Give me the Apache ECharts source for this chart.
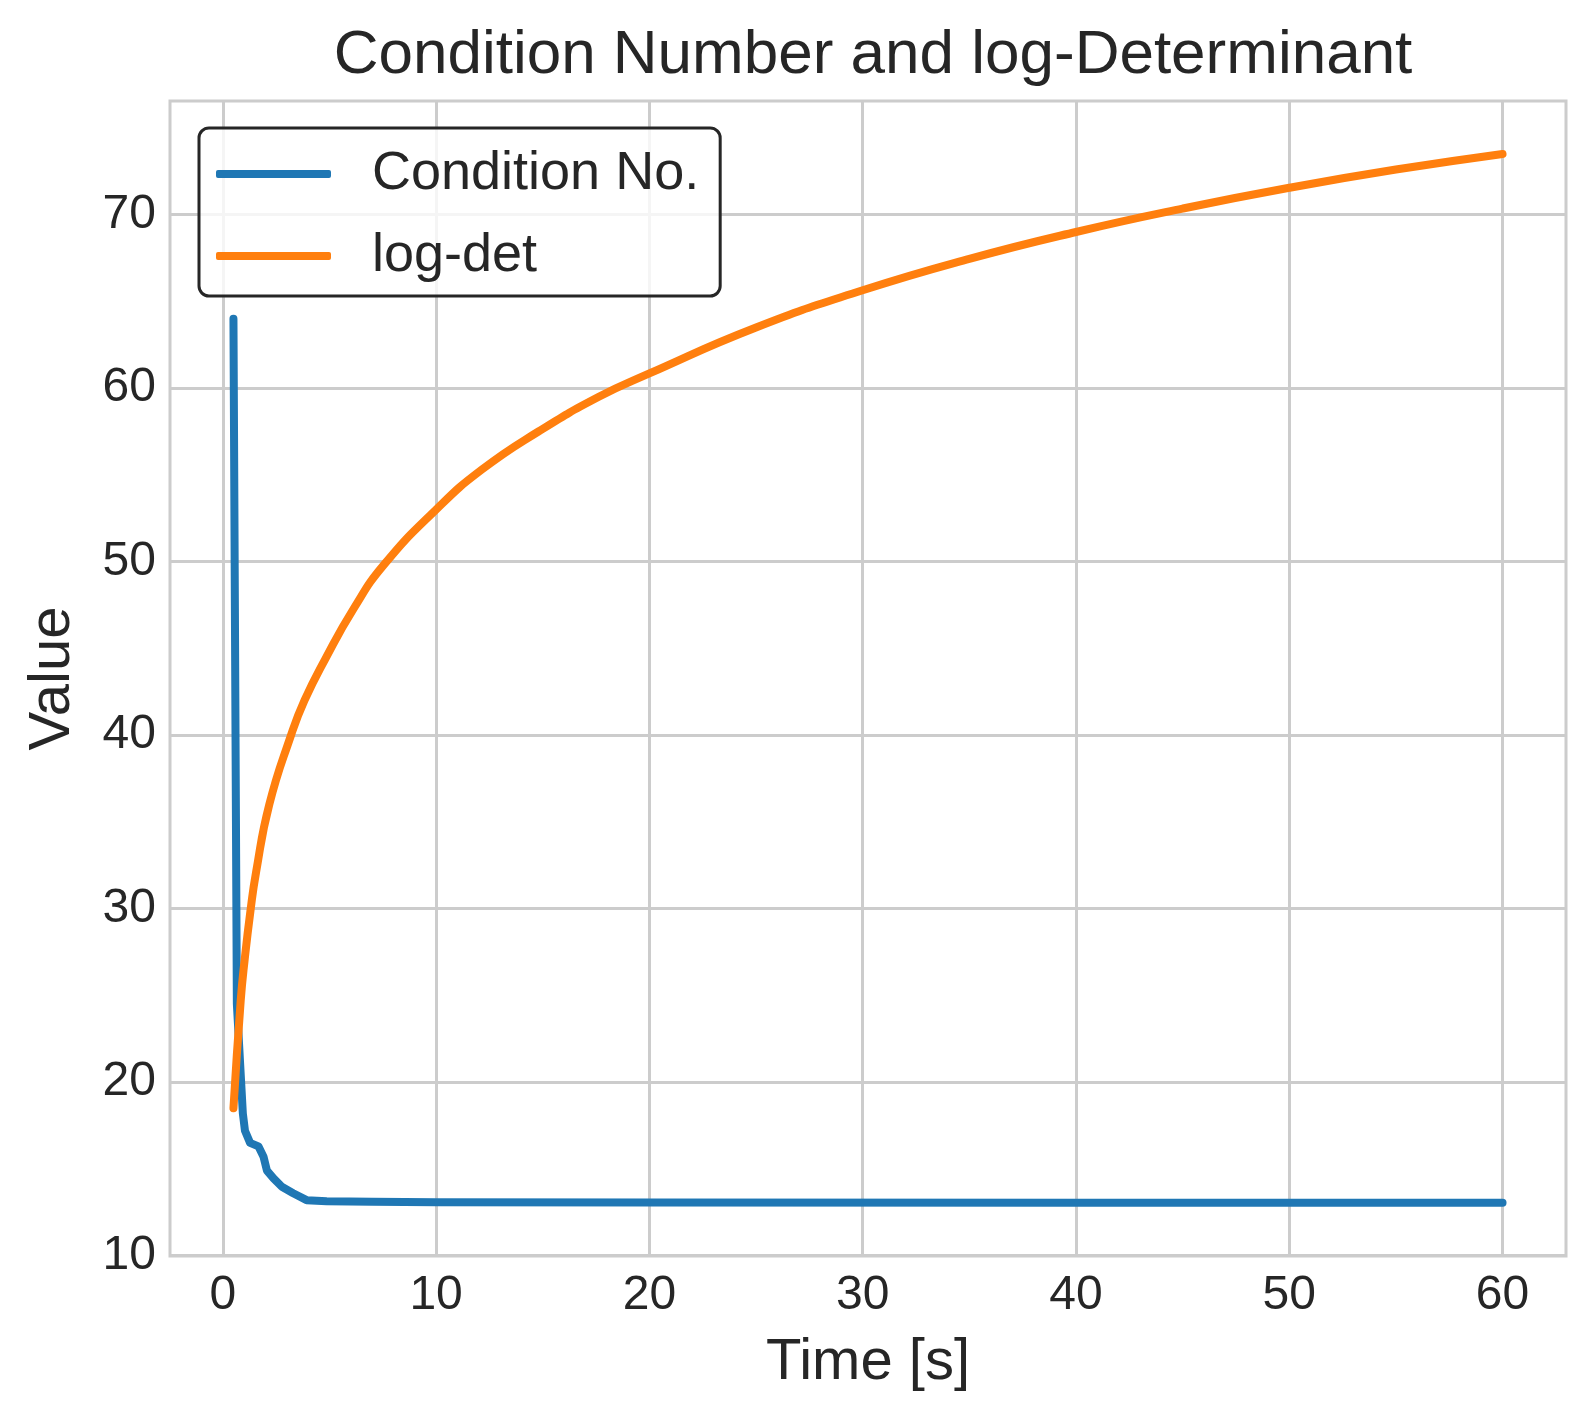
<!DOCTYPE html>
<html>
<head>
<meta charset="utf-8">
<script src="https://cdn.jsdelivr.net/npm/echarts@6/dist/echarts.min.js"></script>
<style>
html,body{margin:0;padding:0;background:#fff;}
#chart{width:1596px;height:1417px;}
</style>
</head>
<body>
<div id="chart"></div>
<script>
// ---- data ----
const condTime   = [0.5, 0.66, 0.94, 1.04, 1.28, 1.67, 1.91, 2.07, 2.38, 2.77, 3.3, 3.93, 4.87, 7, 10, 20, 40, 60];
const condValues = [64.0, 24.5, 18.2, 17.2, 16.5, 16.3, 15.7, 14.9, 14.45, 13.97, 13.6, 13.2, 13.13, 13.1, 13.08, 13.06, 13.05, 13.05];

const logdetTime   = [0.5, 0.84, 1.02, 1.3, 1.56, 2.18, 3.2, 3.83, 4.81, 6.14, 7.54, 10, 12.14, 14.8, 17.63, 20, 25, 30, 35, 40, 45, 50, 55, 60];
const logdetValues = [18.5, 24.7, 27.0, 29.9, 32.1, 36.0, 40.0, 42.0, 44.4, 47.3, 49.8, 53.0, 55.3, 57.5, 59.5, 60.85, 63.5, 65.64, 67.45, 69.0, 70.35, 71.55, 72.6, 73.5];

const xTicks = [0, 10, 20, 30, 40, 50, 60];
const yTicks = [10, 20, 30, 40, 50, 60, 70];

const seriesNames = ['Condition No.', 'log-det'];
const titleText = 'Condition Number and log-Determinant';
const xLabel = 'Time [s]';
const yLabel = 'Value';

// ---- chart ----
const FONT = '"Liberation Sans", Arial, sans-serif';
const TXT = '#262626';
const GRID = '#cccccc';

const chart = echarts.init(document.getElementById('chart'), null, {renderer: 'canvas'});

const pairs = (xs, ys) => xs.map((x, i) => [x, ys[i]]);

chart.setOption({
  backgroundColor: '#ffffff',
  animation: false,
  title: {
    text: titleText,
    left: 868,
    textAlign: 'center',
    top: 20,
    textStyle: {fontFamily: FONT, fontSize: 62, fontWeight: 'normal', color: TXT}
  },
  grid: {
    left: 170, top: 101, right: 30, bottom: 161,
    show: true, borderColor: GRID, borderWidth: 3, backgroundColor: 'transparent',
    containLabel: false
  },
  legend: {
    orient: 'vertical',
    left: 199, top: 128,
    padding: [16, 21, 10, 17],
    itemGap: 22,
    itemWidth: 115,
    itemHeight: 8,
    icon: 'roundRect',
    backgroundColor: 'rgba(255,255,255,0.8)',
    borderColor: TXT,
    borderWidth: 3,
    borderRadius: 10,
    textStyle: {fontFamily: FONT, fontSize: 54, color: TXT, lineHeight: 60, padding: [0, 0, 0, 36]},
    data: seriesNames
  },
  xAxis: {
    type: 'value',
    min: -2.475, max: 62.975,
    name: xLabel,
    nameLocation: 'middle',
    nameGap: 78,
    nameTextStyle: {fontFamily: FONT, fontSize: 58, color: TXT},
    axisLine: {show: false},
    axisTick: {show: false, customValues: xTicks},
    axisLabel: {customValues: xTicks, fontFamily: FONT, fontSize: 48, color: TXT, margin: 16},
    splitLine: {show: true, lineStyle: {color: GRID, width: 3}}
  },
  yAxis: {
    type: 'value',
    min: 9.98, max: 76.55,
    name: yLabel,
    nameLocation: 'middle',
    nameGap: 88,
    nameRotate: 90,
    nameTextStyle: {fontFamily: FONT, fontSize: 58, color: TXT},
    axisLine: {show: false},
    axisTick: {show: false, customValues: yTicks},
    axisLabel: {customValues: yTicks, fontFamily: FONT, fontSize: 48, color: TXT, margin: 14},
    splitLine: {show: true, lineStyle: {color: GRID, width: 3}}
  },
  series: [
    {
      name: seriesNames[0],
      type: 'line',
      data: pairs(condTime, condValues),
      showSymbol: false,
      symbol: 'none',
      smooth: false,
      lineStyle: {color: '#1f77b4', width: 8, cap: 'round', join: 'round'},
      itemStyle: {color: '#1f77b4'},
      z: 2
    },
    {
      name: seriesNames[1],
      type: 'line',
      data: pairs(logdetTime, logdetValues),
      showSymbol: false,
      symbol: 'none',
      smooth: 0.5,
      lineStyle: {color: '#ff7f0e', width: 8, cap: 'round', join: 'round'},
      itemStyle: {color: '#ff7f0e'},
      z: 3
    }
  ]
});
</script>
</body>
</html>
